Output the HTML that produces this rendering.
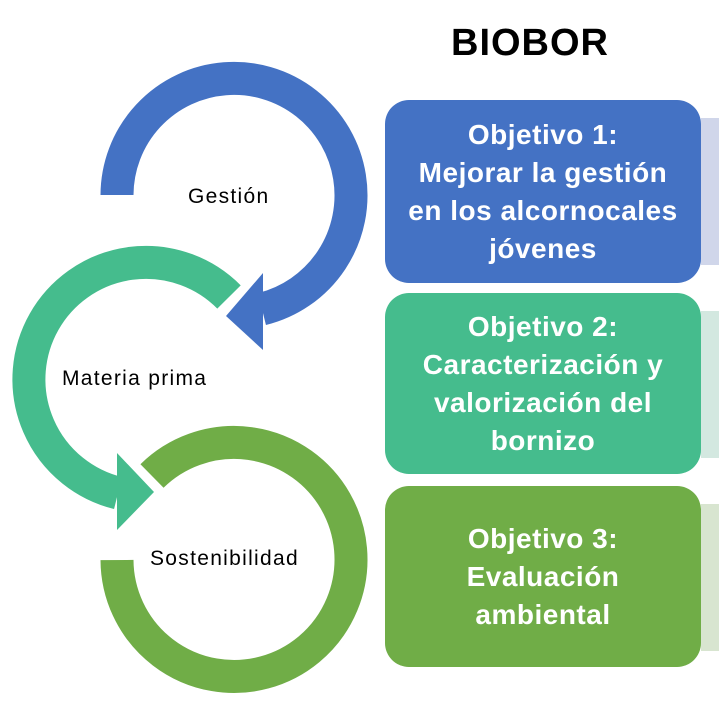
<!DOCTYPE html>
<html><head><meta charset="utf-8"><style>
body{margin:0;width:719px;height:720px;background:#fff;overflow:hidden;position:relative;font-family:"Liberation Sans",sans-serif}
.t{position:absolute;font-size:21px;letter-spacing:1.3px;color:#000}
.bx{position:absolute;left:385px;width:316px;border-radius:24px;color:#fff;font-weight:bold;font-size:28px;letter-spacing:0.5px;line-height:38px;text-align:center;display:flex;align-items:center;justify-content:center;white-space:nowrap}
.lt{position:absolute;left:701px;width:18px}
</style></head><body>
<svg width="719" height="720" style="position:absolute;left:0;top:0">
<path d="M117 195 A117 117 0 1 1 262 309" fill="none" stroke="#4472C4" stroke-width="33"/>
<polygon points="263,273 263,350 226,316" fill="#4472C4"/>
<path d="M229 297 A117 117 0 1 0 118 493" fill="none" stroke="#45BC8D" stroke-width="33"/>
<polygon points="117,453 117,530 154,492" fill="#45BC8D"/>
<path d="M117 560 A117 117 0 1 0 152 476" fill="none" stroke="#70AD47" stroke-width="33"/>
</svg>
<div class="t" style="left:188px;top:185px">Gestión</div>
<div class="t" style="left:62px;top:367px">Materia prima</div>
<div class="t" style="left:150px;top:547px">Sostenibilidad</div>
<div style="position:absolute;left:451px;top:22px;font-weight:bold;font-size:38px;letter-spacing:1px">BIOBOR</div>
<div class="lt" style="top:118px;height:147px;background:#d0d6ea"></div>
<div class="lt" style="top:311px;height:147px;background:#d3e8e0"></div>
<div class="lt" style="top:504px;height:147px;background:#d8e5d0"></div>
<div class="bx" style="top:100px;height:183px;background:#4472C4">Objetivo 1:<br>Mejorar la gestión<br>en los alcornocales<br>jóvenes</div>
<div class="bx" style="top:293px;height:181px;background:#45BC8D">Objetivo 2:<br>Caracterización y<br>valorización del<br>bornizo</div>
<div class="bx" style="top:486px;height:181px;background:#70AD47">Objetivo 3:<br>Evaluación<br>ambiental</div>
</body></html>
